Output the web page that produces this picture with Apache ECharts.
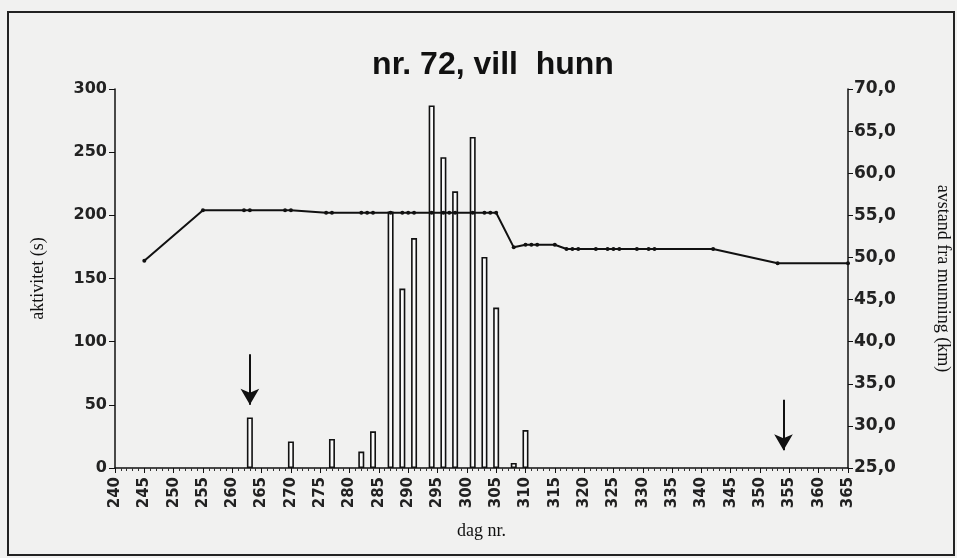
<!DOCTYPE html>
<html>
<head>
<meta charset="utf-8">
<script src="https://cdn.jsdelivr.net/npm/echarts@6/dist/echarts.min.js"></script>
<style>
html,body{margin:0;padding:0;background:#f1f1f0;}
#c{width:957px;height:558px;}
</style>
</head>
<body>
<div id="c"></div>
<script>
// Activity bars (seconds) per day
const barDays   = [263, 270, 277, 282, 284, 287, 289, 291, 294, 296, 298, 301, 303, 305, 308, 310];
const barValues = [40, 21, 23, 13, 29, 203, 142, 182, 287, 246, 219, 262, 167, 127, 4, 30];

// Distance from river mouth (km) per day
const lineDays = [245, 255, 262, 263, 269, 270,
  276, 277, 282, 283, 284, 287, 289, 290, 291, 294, 296, 297, 298, 301, 303, 304, 305,
  308, 310, 311, 312, 315,
  317, 318, 319, 322, 324, 325, 326, 329, 331, 332, 342,
  353, 365];
const lineKm = [49.6, 55.6, 55.6, 55.6, 55.6, 55.6,
  55.3, 55.3, 55.3, 55.3, 55.3, 55.3, 55.3, 55.3, 55.3, 55.3, 55.3, 55.3, 55.3, 55.3, 55.3, 55.3, 55.3,
  51.2, 51.5, 51.5, 51.5, 51.5,
  51.0, 51.0, 51.0, 51.0, 51.0, 51.0, 51.0, 51.0, 51.0, 51.0, 51.0,
  49.3, 49.3];

// Arrow annotations (day, from value, to value) on activity scale
const arrows = [[263, 90, 50], [354, 54, 14]];

const titleText = 'nr. 72, vill  hunn';
const xName = 'dag nr.';
const yLeftName = 'aktivitet (s)';
const yRightName = 'avstand fra munning (km)';

const chart = echarts.init(document.getElementById('c'));
const sans = 'DejaVu Sans';
const serif = 'Liberation Serif';

chart.setOption({
  backgroundColor: '#f1f1f0',
  animation: false,
  title: {
    text: titleText, left: 488, top: 44, textAlign: 'center',
    textStyle: {fontFamily: 'Liberation Sans', fontWeight: 'bold', fontSize: 32, color: '#111'}
  },
  graphic: [{
    type: 'rect', shape: {x: 8, y: 12, width: 946, height: 543},
    style: {fill: 'none', stroke: '#222', lineWidth: 2}, silent: true
  }],
  grid: {left: 115, right: 109, top: 89, bottom: 90, outerBoundsMode: 'none', containLabel: false},
  xAxis: {
    type: 'value', min: 240, max: 365, interval: 5,
    name: xName, nameLocation: 'middle', nameGap: 54,
    nameTextStyle: {fontFamily: serif, fontSize: 18, color: '#111'},
    axisLine: {lineStyle: {color: '#111', width: 1.5}},
    axisTick: {length: 5, lineStyle: {color: '#111'}},
    minorTick: {show: true, splitNumber: 5, length: 3, lineStyle: {color: '#333'}},
    splitLine: {show: false},
    axisLabel: {rotate: 90, fontFamily: sans, fontSize: 15, fontWeight: 'bold', color: '#222', margin: 9}
  },
  yAxis: [{
    type: 'value', min: 0, max: 300, interval: 50, position: 'left',
    name: yLeftName, nameLocation: 'middle', nameGap: 68, nameRotate: 90,
    nameTextStyle: {fontFamily: serif, fontSize: 18, color: '#111'},
    axisLine: {show: true, lineStyle: {color: '#111', width: 1.5}},
    axisTick: {show: true, length: 6, lineStyle: {color: '#111'}},
    splitLine: {show: false},
    axisLabel: {fontFamily: sans, fontSize: 16, fontWeight: 'bold', color: '#222', margin: 8}
  }, {
    type: 'value', min: 25, max: 70, interval: 5, position: 'right',
    name: yRightName, nameLocation: 'middle', nameGap: 86, nameRotate: -90,
    nameTextStyle: {fontFamily: serif, fontSize: 18, color: '#111'},
    axisLine: {show: true, lineStyle: {color: '#111', width: 1.5}},
    axisTick: {show: true, length: 5, lineStyle: {color: '#111'}},
    splitLine: {show: false},
    axisLabel: {fontFamily: sans, fontSize: 17, fontWeight: 'bold', color: '#222', margin: 6,
      formatter: v => v.toFixed(1).replace('.', ',')}
  }],
  series: [{
    type: 'bar', yAxisIndex: 0, barWidth: 6,
    data: barDays.map((d, i) => [d, barValues[i]]),
    itemStyle: {color: '#fafafa', borderColor: '#111', borderWidth: 1.6},
    markLine: {
      silent: true, symbol: ['none', 'arrow'], symbolSize: [14, 16],
      lineStyle: {color: '#111', width: 2, type: 'solid'}, label: {show: false},
      data: arrows.map(a => [{coord: [a[0], a[1]]}, {coord: [a[0], a[2]]}])
    }
  }, {
    type: 'line', yAxisIndex: 1,
    data: lineDays.map((d, i) => [d, lineKm[i]]),
    symbol: 'circle', symbolSize: 4, showAllSymbol: true,
    lineStyle: {color: '#111', width: 2},
    itemStyle: {color: '#111'}
  }]
});
</script>
</body>
</html>
